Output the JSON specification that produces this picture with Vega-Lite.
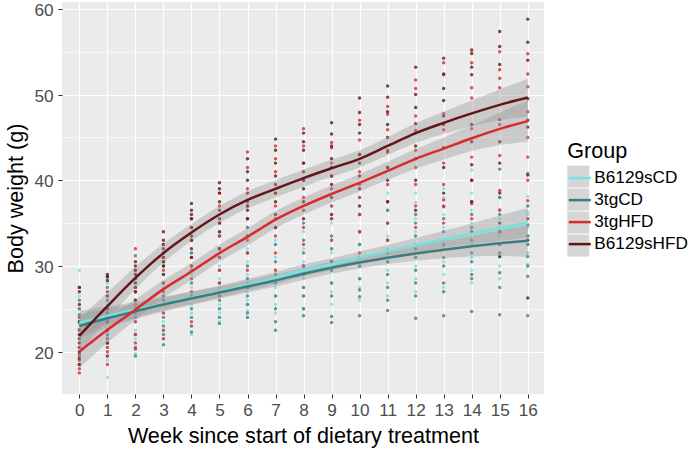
{
  "$schema": "https://vega.github.io/schema/vega-lite/v6.json",
  "autosize": {"type": "none"},
  "padding": {"left": 62, "top": 2, "right": 145, "bottom": 59},
  "width": 482,
  "height": 392,
  "background": "white",
  "config": {
    "view": {"fill": "#EBEBEB", "stroke": null},
    "font": "Liberation Sans",
    "axis": {
      "domain": false,
      "grid": true,
      "gridColor": "#FFFFFF",
      "gridWidth": 1.2,
      "tickColor": "#333333",
      "tickSize": 4,
      "tickWidth": 1,
      "labelFont": "Liberation Sans",
      "labelFontSize": 17.2,
      "labelColor": "#4D4D4D",
      "labelOverlap": false,
      "titleFont": "Liberation Sans",
      "titleFontSize": 21.6,
      "titleFontWeight": "normal",
      "titleColor": "#000000"
    },
    "axisX": {"values": [0,1,2,3,4,5,6,7,8,9,10,11,12,13,14,15,16], "labelPadding": 3, "titlePadding": 7, "labelFlush": false},
    "legend": {
      "orient": "none", "legendX": 505.3, "legendY": 139, "symbolSize": 484,
      "titleFontSize": 21.6, "titleFontWeight": "normal", "titleColor": "#000000", "titleFont": "Liberation Sans",
      "labelFont": "Liberation Sans", "labelFontSize": 17.2, "labelColor": "#000000",
      "rowPadding": 1, "titlePadding": 3, "labelOffset": 2
    }
  },
  "datasets": {
    "pts": [
      {"g":"B6129sCD","w":0,"v":29.5},{"g":"B6129sCD","w":0,"v":26.5},{"g":"B6129sCD","w":0,"v":25.0},{"g":"B6129sCD","w":0,"v":24.0},{"g":"B6129sCD","w":0,"v":23.2},{"g":"B6129sCD","w":0,"v":22.5},{"g":"B6129sCD","w":0,"v":21.8},{"g":"B6129sCD","w":0,"v":20.5},{"g":"B6129sCD","w":0,"v":18.5},
      {"g":"B6129sCD","w":1,"v":28.0},{"g":"B6129sCD","w":1,"v":25.5},{"g":"B6129sCD","w":1,"v":24.5},{"g":"B6129sCD","w":1,"v":23.5},{"g":"B6129sCD","w":1,"v":22.5},{"g":"B6129sCD","w":1,"v":21.8},{"g":"B6129sCD","w":1,"v":20.5},{"g":"B6129sCD","w":1,"v":19.0},{"g":"B6129sCD","w":1,"v":17.0},
      {"g":"B6129sCD","w":2,"v":28.0},{"g":"B6129sCD","w":2,"v":26.0},{"g":"B6129sCD","w":2,"v":25.0},{"g":"B6129sCD","w":2,"v":24.5},{"g":"B6129sCD","w":2,"v":23.5},{"g":"B6129sCD","w":2,"v":22.5},{"g":"B6129sCD","w":2,"v":21.5},{"g":"B6129sCD","w":2,"v":20.5},{"g":"B6129sCD","w":2,"v":19.8},
      {"g":"B6129sCD","w":3,"v":30.5},{"g":"B6129sCD","w":3,"v":29.0},{"g":"B6129sCD","w":3,"v":27.5},{"g":"B6129sCD","w":3,"v":26.5},{"g":"B6129sCD","w":3,"v":25.5},{"g":"B6129sCD","w":3,"v":24.5},{"g":"B6129sCD","w":3,"v":23.5},{"g":"B6129sCD","w":3,"v":22.5},{"g":"B6129sCD","w":3,"v":21.5},
      {"g":"B6129sCD","w":4,"v":31.5},{"g":"B6129sCD","w":4,"v":30.0},{"g":"B6129sCD","w":4,"v":29.0},{"g":"B6129sCD","w":4,"v":27.5},{"g":"B6129sCD","w":4,"v":26.5},{"g":"B6129sCD","w":4,"v":25.5},{"g":"B6129sCD","w":4,"v":24.5},{"g":"B6129sCD","w":4,"v":23.0},{"g":"B6129sCD","w":4,"v":22.0},
      {"g":"B6129sCD","w":5,"v":34.0},{"g":"B6129sCD","w":5,"v":31.5},{"g":"B6129sCD","w":5,"v":30.0},{"g":"B6129sCD","w":5,"v":28.5},{"g":"B6129sCD","w":5,"v":27.5},{"g":"B6129sCD","w":5,"v":26.5},{"g":"B6129sCD","w":5,"v":25.5},{"g":"B6129sCD","w":5,"v":24.5},{"g":"B6129sCD","w":5,"v":23.5},
      {"g":"B6129sCD","w":6,"v":34.5},{"g":"B6129sCD","w":6,"v":32.0},{"g":"B6129sCD","w":6,"v":30.5},{"g":"B6129sCD","w":6,"v":29.0},{"g":"B6129sCD","w":6,"v":28.0},{"g":"B6129sCD","w":6,"v":27.0},{"g":"B6129sCD","w":6,"v":26.0},{"g":"B6129sCD","w":6,"v":25.5},{"g":"B6129sCD","w":6,"v":24.8},
      {"g":"B6129sCD","w":7,"v":35.5},{"g":"B6129sCD","w":7,"v":33.0},{"g":"B6129sCD","w":7,"v":31.0},{"g":"B6129sCD","w":7,"v":29.5},{"g":"B6129sCD","w":7,"v":28.5},{"g":"B6129sCD","w":7,"v":27.5},{"g":"B6129sCD","w":7,"v":26.5},{"g":"B6129sCD","w":7,"v":25.5},{"g":"B6129sCD","w":7,"v":24.5},
      {"g":"B6129sCD","w":8,"v":36.5},{"g":"B6129sCD","w":8,"v":34.0},{"g":"B6129sCD","w":8,"v":32.0},{"g":"B6129sCD","w":8,"v":30.5},{"g":"B6129sCD","w":8,"v":29.5},{"g":"B6129sCD","w":8,"v":28.5},{"g":"B6129sCD","w":8,"v":27.5},{"g":"B6129sCD","w":8,"v":26.5},{"g":"B6129sCD","w":8,"v":25.0},
      {"g":"B6129sCD","w":9,"v":37.0},{"g":"B6129sCD","w":9,"v":35.0},{"g":"B6129sCD","w":9,"v":33.0},{"g":"B6129sCD","w":9,"v":31.5},{"g":"B6129sCD","w":9,"v":30.5},{"g":"B6129sCD","w":9,"v":29.5},{"g":"B6129sCD","w":9,"v":28.0},{"g":"B6129sCD","w":9,"v":27.0},{"g":"B6129sCD","w":9,"v":25.5},
      {"g":"B6129sCD","w":10,"v":38.0},{"g":"B6129sCD","w":10,"v":36.0},{"g":"B6129sCD","w":10,"v":34.0},{"g":"B6129sCD","w":10,"v":32.5},{"g":"B6129sCD","w":10,"v":31.0},{"g":"B6129sCD","w":10,"v":30.0},{"g":"B6129sCD","w":10,"v":28.5},{"g":"B6129sCD","w":10,"v":27.5},{"g":"B6129sCD","w":10,"v":26.0},
      {"g":"B6129sCD","w":11,"v":38.5},{"g":"B6129sCD","w":11,"v":36.5},{"g":"B6129sCD","w":11,"v":35.0},{"g":"B6129sCD","w":11,"v":33.5},{"g":"B6129sCD","w":11,"v":32.0},{"g":"B6129sCD","w":11,"v":30.5},{"g":"B6129sCD","w":11,"v":29.5},{"g":"B6129sCD","w":11,"v":28.0},{"g":"B6129sCD","w":11,"v":26.5},
      {"g":"B6129sCD","w":12,"v":38.5},{"g":"B6129sCD","w":12,"v":37.4},{"g":"B6129sCD","w":12,"v":35.5},{"g":"B6129sCD","w":12,"v":34.0},{"g":"B6129sCD","w":12,"v":32.5},{"g":"B6129sCD","w":12,"v":31.0},{"g":"B6129sCD","w":12,"v":30.0},{"g":"B6129sCD","w":12,"v":28.5},{"g":"B6129sCD","w":12,"v":27.0},
      {"g":"B6129sCD","w":13,"v":39.0},{"g":"B6129sCD","w":13,"v":38.0},{"g":"B6129sCD","w":13,"v":36.0},{"g":"B6129sCD","w":13,"v":34.5},{"g":"B6129sCD","w":13,"v":33.0},{"g":"B6129sCD","w":13,"v":32.0},{"g":"B6129sCD","w":13,"v":30.5},{"g":"B6129sCD","w":13,"v":29.0},{"g":"B6129sCD","w":13,"v":27.5},
      {"g":"B6129sCD","w":14,"v":41.2},{"g":"B6129sCD","w":14,"v":38.5},{"g":"B6129sCD","w":14,"v":36.5},{"g":"B6129sCD","w":14,"v":35.0},{"g":"B6129sCD","w":14,"v":34.0},{"g":"B6129sCD","w":14,"v":32.5},{"g":"B6129sCD","w":14,"v":31.0},{"g":"B6129sCD","w":14,"v":29.5},{"g":"B6129sCD","w":14,"v":28.0},
      {"g":"B6129sCD","w":15,"v":38.0},{"g":"B6129sCD","w":15,"v":36.6},{"g":"B6129sCD","w":15,"v":35.5},{"g":"B6129sCD","w":15,"v":34.5},{"g":"B6129sCD","w":15,"v":33.5},{"g":"B6129sCD","w":15,"v":32.5},{"g":"B6129sCD","w":15,"v":31.0},{"g":"B6129sCD","w":15,"v":30.0},{"g":"B6129sCD","w":15,"v":28.5},
      {"g":"B6129sCD","w":16,"v":38.1},{"g":"B6129sCD","w":16,"v":36.3},{"g":"B6129sCD","w":16,"v":36.0},{"g":"B6129sCD","w":16,"v":35.5},{"g":"B6129sCD","w":16,"v":34.5},{"g":"B6129sCD","w":16,"v":33.5},{"g":"B6129sCD","w":16,"v":32.5},{"g":"B6129sCD","w":16,"v":31.5},{"g":"B6129sCD","w":16,"v":30.2},
      {"g":"3tgCD","w":0,"v":27.5},{"g":"3tgCD","w":0,"v":26.0},{"g":"3tgCD","w":0,"v":25.0},{"g":"3tgCD","w":0,"v":24.3},{"g":"3tgCD","w":0,"v":23.5},{"g":"3tgCD","w":0,"v":22.6},{"g":"3tgCD","w":0,"v":21.5},{"g":"3tgCD","w":0,"v":20.5},{"g":"3tgCD","w":0,"v":19.5},
      {"g":"3tgCD","w":1,"v":28.8},{"g":"3tgCD","w":1,"v":27.5},{"g":"3tgCD","w":1,"v":26.0},{"g":"3tgCD","w":1,"v":25.0},{"g":"3tgCD","w":1,"v":24.0},{"g":"3tgCD","w":1,"v":23.5},{"g":"3tgCD","w":1,"v":22.0},{"g":"3tgCD","w":1,"v":21.0},{"g":"3tgCD","w":1,"v":19.5},
      {"g":"3tgCD","w":2,"v":31.2},{"g":"3tgCD","w":2,"v":29.0},{"g":"3tgCD","w":2,"v":27.5},{"g":"3tgCD","w":2,"v":26.0},{"g":"3tgCD","w":2,"v":25.0},{"g":"3tgCD","w":2,"v":24.0},{"g":"3tgCD","w":2,"v":22.0},{"g":"3tgCD","w":2,"v":20.5},{"g":"3tgCD","w":2,"v":19.5},
      {"g":"3tgCD","w":3,"v":32.5},{"g":"3tgCD","w":3,"v":30.0},{"g":"3tgCD","w":3,"v":28.0},{"g":"3tgCD","w":3,"v":26.5},{"g":"3tgCD","w":3,"v":25.5},{"g":"3tgCD","w":3,"v":24.0},{"g":"3tgCD","w":3,"v":23.0},{"g":"3tgCD","w":3,"v":22.0},{"g":"3tgCD","w":3,"v":20.8},
      {"g":"3tgCD","w":4,"v":33.0},{"g":"3tgCD","w":4,"v":31.5},{"g":"3tgCD","w":4,"v":30.0},{"g":"3tgCD","w":4,"v":28.0},{"g":"3tgCD","w":4,"v":26.5},{"g":"3tgCD","w":4,"v":25.0},{"g":"3tgCD","w":4,"v":24.0},{"g":"3tgCD","w":4,"v":23.0},{"g":"3tgCD","w":4,"v":22.3},
      {"g":"3tgCD","w":5,"v":33.5},{"g":"3tgCD","w":5,"v":31.0},{"g":"3tgCD","w":5,"v":29.5},{"g":"3tgCD","w":5,"v":28.0},{"g":"3tgCD","w":5,"v":27.0},{"g":"3tgCD","w":5,"v":26.0},{"g":"3tgCD","w":5,"v":25.0},{"g":"3tgCD","w":5,"v":24.0},{"g":"3tgCD","w":5,"v":23.3},
      {"g":"3tgCD","w":6,"v":34.5},{"g":"3tgCD","w":6,"v":31.5},{"g":"3tgCD","w":6,"v":30.0},{"g":"3tgCD","w":6,"v":28.5},{"g":"3tgCD","w":6,"v":27.5},{"g":"3tgCD","w":6,"v":26.5},{"g":"3tgCD","w":6,"v":25.5},{"g":"3tgCD","w":6,"v":24.5},{"g":"3tgCD","w":6,"v":24.0},
      {"g":"3tgCD","w":7,"v":34.5},{"g":"3tgCD","w":7,"v":32.5},{"g":"3tgCD","w":7,"v":30.5},{"g":"3tgCD","w":7,"v":29.0},{"g":"3tgCD","w":7,"v":28.0},{"g":"3tgCD","w":7,"v":26.5},{"g":"3tgCD","w":7,"v":25.0},{"g":"3tgCD","w":7,"v":23.5},{"g":"3tgCD","w":7,"v":22.5},
      {"g":"3tgCD","w":8,"v":35.0},{"g":"3tgCD","w":8,"v":33.0},{"g":"3tgCD","w":8,"v":31.5},{"g":"3tgCD","w":8,"v":30.0},{"g":"3tgCD","w":8,"v":29.0},{"g":"3tgCD","w":8,"v":27.5},{"g":"3tgCD","w":8,"v":26.5},{"g":"3tgCD","w":8,"v":25.0},{"g":"3tgCD","w":8,"v":24.2},
      {"g":"3tgCD","w":9,"v":35.5},{"g":"3tgCD","w":9,"v":33.5},{"g":"3tgCD","w":9,"v":32.0},{"g":"3tgCD","w":9,"v":30.5},{"g":"3tgCD","w":9,"v":29.5},{"g":"3tgCD","w":9,"v":28.0},{"g":"3tgCD","w":9,"v":26.5},{"g":"3tgCD","w":9,"v":24.1},{"g":"3tgCD","w":9,"v":23.4},
      {"g":"3tgCD","w":10,"v":36.0},{"g":"3tgCD","w":10,"v":34.0},{"g":"3tgCD","w":10,"v":32.5},{"g":"3tgCD","w":10,"v":31.0},{"g":"3tgCD","w":10,"v":30.0},{"g":"3tgCD","w":10,"v":28.5},{"g":"3tgCD","w":10,"v":27.2},{"g":"3tgCD","w":10,"v":26.4},{"g":"3tgCD","w":10,"v":24.2},
      {"g":"3tgCD","w":11,"v":36.5},{"g":"3tgCD","w":11,"v":35.0},{"g":"3tgCD","w":11,"v":33.0},{"g":"3tgCD","w":11,"v":31.5},{"g":"3tgCD","w":11,"v":30.5},{"g":"3tgCD","w":11,"v":29.0},{"g":"3tgCD","w":11,"v":27.5},{"g":"3tgCD","w":11,"v":26.0},{"g":"3tgCD","w":11,"v":24.8},
      {"g":"3tgCD","w":12,"v":36.0},{"g":"3tgCD","w":12,"v":35.0},{"g":"3tgCD","w":12,"v":33.5},{"g":"3tgCD","w":12,"v":32.0},{"g":"3tgCD","w":12,"v":31.0},{"g":"3tgCD","w":12,"v":29.5},{"g":"3tgCD","w":12,"v":28.0},{"g":"3tgCD","w":12,"v":26.5},{"g":"3tgCD","w":12,"v":23.9},
      {"g":"3tgCD","w":13,"v":37.0},{"g":"3tgCD","w":13,"v":35.5},{"g":"3tgCD","w":13,"v":34.0},{"g":"3tgCD","w":13,"v":32.5},{"g":"3tgCD","w":13,"v":31.0},{"g":"3tgCD","w":13,"v":30.0},{"g":"3tgCD","w":13,"v":28.0},{"g":"3tgCD","w":13,"v":27.0},{"g":"3tgCD","w":13,"v":24.2},
      {"g":"3tgCD","w":14,"v":37.5},{"g":"3tgCD","w":14,"v":36.0},{"g":"3tgCD","w":14,"v":34.5},{"g":"3tgCD","w":14,"v":33.0},{"g":"3tgCD","w":14,"v":31.5},{"g":"3tgCD","w":14,"v":30.5},{"g":"3tgCD","w":14,"v":29.0},{"g":"3tgCD","w":14,"v":28.5},{"g":"3tgCD","w":14,"v":24.7},
      {"g":"3tgCD","w":15,"v":41.3},{"g":"3tgCD","w":15,"v":38.0},{"g":"3tgCD","w":15,"v":36.0},{"g":"3tgCD","w":15,"v":34.0},{"g":"3tgCD","w":15,"v":32.5},{"g":"3tgCD","w":15,"v":31.5},{"g":"3tgCD","w":15,"v":29.2},{"g":"3tgCD","w":15,"v":27.5},{"g":"3tgCD","w":15,"v":24.3},
      {"g":"3tgCD","w":16,"v":40.8},{"g":"3tgCD","w":16,"v":37.0},{"g":"3tgCD","w":16,"v":34.8},{"g":"3tgCD","w":16,"v":33.5},{"g":"3tgCD","w":16,"v":32.5},{"g":"3tgCD","w":16,"v":31.1},{"g":"3tgCD","w":16,"v":30.0},{"g":"3tgCD","w":16,"v":28.8},{"g":"3tgCD","w":16,"v":24.2},
      {"g":"3tgHFD","w":0,"v":24.0},{"g":"3tgHFD","w":0,"v":22.5},{"g":"3tgHFD","w":0,"v":21.5},{"g":"3tgHFD","w":0,"v":20.5},{"g":"3tgHFD","w":0,"v":19.8},{"g":"3tgHFD","w":0,"v":19.0},{"g":"3tgHFD","w":0,"v":18.5},{"g":"3tgHFD","w":0,"v":18.0},{"g":"3tgHFD","w":0,"v":17.5},
      {"g":"3tgHFD","w":1,"v":27.0},{"g":"3tgHFD","w":1,"v":25.0},{"g":"3tgHFD","w":1,"v":23.5},{"g":"3tgHFD","w":1,"v":22.5},{"g":"3tgHFD","w":1,"v":21.5},{"g":"3tgHFD","w":1,"v":20.5},{"g":"3tgHFD","w":1,"v":20.0},{"g":"3tgHFD","w":1,"v":19.5},{"g":"3tgHFD","w":1,"v":18.5},
      {"g":"3tgHFD","w":2,"v":32.0},{"g":"3tgHFD","w":2,"v":29.5},{"g":"3tgHFD","w":2,"v":27.0},{"g":"3tgHFD","w":2,"v":25.5},{"g":"3tgHFD","w":2,"v":24.5},{"g":"3tgHFD","w":2,"v":23.5},{"g":"3tgHFD","w":2,"v":22.0},{"g":"3tgHFD","w":2,"v":21.0},{"g":"3tgHFD","w":2,"v":20.3},
      {"g":"3tgHFD","w":3,"v":31.0},{"g":"3tgHFD","w":3,"v":30.5},{"g":"3tgHFD","w":3,"v":29.5},{"g":"3tgHFD","w":3,"v":28.0},{"g":"3tgHFD","w":3,"v":27.0},{"g":"3tgHFD","w":3,"v":26.0},{"g":"3tgHFD","w":3,"v":24.5},{"g":"3tgHFD","w":3,"v":22.5},{"g":"3tgHFD","w":3,"v":21.5},
      {"g":"3tgHFD","w":4,"v":35.5},{"g":"3tgHFD","w":4,"v":34.5},{"g":"3tgHFD","w":4,"v":33.0},{"g":"3tgHFD","w":4,"v":31.0},{"g":"3tgHFD","w":4,"v":30.0},{"g":"3tgHFD","w":4,"v":29.5},{"g":"3tgHFD","w":4,"v":28.5},{"g":"3tgHFD","w":4,"v":27.0},{"g":"3tgHFD","w":4,"v":23.5},
      {"g":"3tgHFD","w":5,"v":38.5},{"g":"3tgHFD","w":5,"v":37.0},{"g":"3tgHFD","w":5,"v":35.0},{"g":"3tgHFD","w":5,"v":33.5},{"g":"3tgHFD","w":5,"v":32.0},{"g":"3tgHFD","w":5,"v":31.0},{"g":"3tgHFD","w":5,"v":29.5},{"g":"3tgHFD","w":5,"v":28.0},{"g":"3tgHFD","w":5,"v":26.5},
      {"g":"3tgHFD","w":6,"v":43.3},{"g":"3tgHFD","w":6,"v":41.5},{"g":"3tgHFD","w":6,"v":39.0},{"g":"3tgHFD","w":6,"v":37.0},{"g":"3tgHFD","w":6,"v":35.5},{"g":"3tgHFD","w":6,"v":33.0},{"g":"3tgHFD","w":6,"v":31.5},{"g":"3tgHFD","w":6,"v":29.5},{"g":"3tgHFD","w":6,"v":27.5},
      {"g":"3tgHFD","w":7,"v":44.0},{"g":"3tgHFD","w":7,"v":42.5},{"g":"3tgHFD","w":7,"v":41.0},{"g":"3tgHFD","w":7,"v":38.5},{"g":"3tgHFD","w":7,"v":37.0},{"g":"3tgHFD","w":7,"v":35.5},{"g":"3tgHFD","w":7,"v":33.5},{"g":"3tgHFD","w":7,"v":31.5},{"g":"3tgHFD","w":7,"v":29.5},
      {"g":"3tgHFD","w":8,"v":46.0},{"g":"3tgHFD","w":8,"v":44.0},{"g":"3tgHFD","w":8,"v":42.0},{"g":"3tgHFD","w":8,"v":40.0},{"g":"3tgHFD","w":8,"v":38.0},{"g":"3tgHFD","w":8,"v":36.5},{"g":"3tgHFD","w":8,"v":34.5},{"g":"3tgHFD","w":8,"v":32.5},{"g":"3tgHFD","w":8,"v":30.0},
      {"g":"3tgHFD","w":9,"v":44.4},{"g":"3tgHFD","w":9,"v":43.8},{"g":"3tgHFD","w":9,"v":42.0},{"g":"3tgHFD","w":9,"v":40.5},{"g":"3tgHFD","w":9,"v":39.0},{"g":"3tgHFD","w":9,"v":37.0},{"g":"3tgHFD","w":9,"v":35.5},{"g":"3tgHFD","w":9,"v":33.0},{"g":"3tgHFD","w":9,"v":30.5},
      {"g":"3tgHFD","w":10,"v":47.0},{"g":"3tgHFD","w":10,"v":44.7},{"g":"3tgHFD","w":10,"v":43.0},{"g":"3tgHFD","w":10,"v":41.0},{"g":"3tgHFD","w":10,"v":39.5},{"g":"3tgHFD","w":10,"v":38.0},{"g":"3tgHFD","w":10,"v":36.0},{"g":"3tgHFD","w":10,"v":34.0},{"g":"3tgHFD","w":10,"v":31.5},
      {"g":"3tgHFD","w":11,"v":48.6},{"g":"3tgHFD","w":11,"v":47.7},{"g":"3tgHFD","w":11,"v":45.9},{"g":"3tgHFD","w":11,"v":43.5},{"g":"3tgHFD","w":11,"v":41.5},{"g":"3tgHFD","w":11,"v":39.5},{"g":"3tgHFD","w":11,"v":37.5},{"g":"3tgHFD","w":11,"v":35.0},{"g":"3tgHFD","w":11,"v":33.0},
      {"g":"3tgHFD","w":12,"v":51.7},{"g":"3tgHFD","w":12,"v":50.7},{"g":"3tgHFD","w":12,"v":47.5},{"g":"3tgHFD","w":12,"v":45.8},{"g":"3tgHFD","w":12,"v":43.5},{"g":"3tgHFD","w":12,"v":41.5},{"g":"3tgHFD","w":12,"v":39.5},{"g":"3tgHFD","w":12,"v":37.0},{"g":"3tgHFD","w":12,"v":34.5},
      {"g":"3tgHFD","w":13,"v":53.7},{"g":"3tgHFD","w":13,"v":52.3},{"g":"3tgHFD","w":13,"v":47.8},{"g":"3tgHFD","w":13,"v":45.9},{"g":"3tgHFD","w":13,"v":42.0},{"g":"3tgHFD","w":13,"v":39.5},{"g":"3tgHFD","w":13,"v":37.7},{"g":"3tgHFD","w":13,"v":36.9},{"g":"3tgHFD","w":13,"v":35.0},
      {"g":"3tgHFD","w":14,"v":53.7},{"g":"3tgHFD","w":14,"v":50.8},{"g":"3tgHFD","w":14,"v":49.6},{"g":"3tgHFD","w":14,"v":46.0},{"g":"3tgHFD","w":14,"v":42.7},{"g":"3tgHFD","w":14,"v":40.0},{"g":"3tgHFD","w":14,"v":37.25},{"g":"3tgHFD","w":14,"v":35.5},{"g":"3tgHFD","w":14,"v":34.0},
      {"g":"3tgHFD","w":15,"v":55.0},{"g":"3tgHFD","w":15,"v":52.9},{"g":"3tgHFD","w":15,"v":51.9},{"g":"3tgHFD","w":15,"v":50.8},{"g":"3tgHFD","w":15,"v":46.5},{"g":"3tgHFD","w":15,"v":42.9},{"g":"3tgHFD","w":15,"v":38.8},{"g":"3tgHFD","w":15,"v":36.5},{"g":"3tgHFD","w":15,"v":34.0},
      {"g":"3tgHFD","w":16,"v":54.75},{"g":"3tgHFD","w":16,"v":52.4},{"g":"3tgHFD","w":16,"v":50.9},{"g":"3tgHFD","w":16,"v":48.0},{"g":"3tgHFD","w":16,"v":45.0},{"g":"3tgHFD","w":16,"v":42.7},{"g":"3tgHFD","w":16,"v":40.0},{"g":"3tgHFD","w":16,"v":37.6},{"g":"3tgHFD","w":16,"v":35.5},
      {"g":"B6129sHFD","w":0,"v":27.5},{"g":"B6129sHFD","w":0,"v":27.0},{"g":"B6129sHFD","w":0,"v":25.5},{"g":"B6129sHFD","w":0,"v":23.5},{"g":"B6129sHFD","w":0,"v":22.0},{"g":"B6129sHFD","w":0,"v":21.0},{"g":"B6129sHFD","w":0,"v":20.0},{"g":"B6129sHFD","w":0,"v":19.2},{"g":"B6129sHFD","w":0,"v":18.5},
      {"g":"B6129sHFD","w":1,"v":29.0},{"g":"B6129sHFD","w":1,"v":28.7},{"g":"B6129sHFD","w":1,"v":28.3},{"g":"B6129sHFD","w":1,"v":26.5},{"g":"B6129sHFD","w":1,"v":25.0},{"g":"B6129sHFD","w":1,"v":24.5},{"g":"B6129sHFD","w":1,"v":23.5},{"g":"B6129sHFD","w":1,"v":22.5},{"g":"B6129sHFD","w":1,"v":21.0},
      {"g":"B6129sHFD","w":2,"v":30.5},{"g":"B6129sHFD","w":2,"v":30.0},{"g":"B6129sHFD","w":2,"v":29.5},{"g":"B6129sHFD","w":2,"v":29.0},{"g":"B6129sHFD","w":2,"v":28.5},{"g":"B6129sHFD","w":2,"v":28.0},{"g":"B6129sHFD","w":2,"v":27.5},{"g":"B6129sHFD","w":2,"v":27.0},{"g":"B6129sHFD","w":2,"v":26.0},
      {"g":"B6129sHFD","w":3,"v":34.0},{"g":"B6129sHFD","w":3,"v":33.0},{"g":"B6129sHFD","w":3,"v":32.5},{"g":"B6129sHFD","w":3,"v":32.0},{"g":"B6129sHFD","w":3,"v":31.5},{"g":"B6129sHFD","w":3,"v":31.0},{"g":"B6129sHFD","w":3,"v":30.5},{"g":"B6129sHFD","w":3,"v":30.0},{"g":"B6129sHFD","w":3,"v":29.0},
      {"g":"B6129sHFD","w":4,"v":37.3},{"g":"B6129sHFD","w":4,"v":36.5},{"g":"B6129sHFD","w":4,"v":36.0},{"g":"B6129sHFD","w":4,"v":35.5},{"g":"B6129sHFD","w":4,"v":34.5},{"g":"B6129sHFD","w":4,"v":33.5},{"g":"B6129sHFD","w":4,"v":33.0},{"g":"B6129sHFD","w":4,"v":32.0},{"g":"B6129sHFD","w":4,"v":31.0},
      {"g":"B6129sHFD","w":5,"v":39.7},{"g":"B6129sHFD","w":5,"v":39.0},{"g":"B6129sHFD","w":5,"v":38.5},{"g":"B6129sHFD","w":5,"v":37.5},{"g":"B6129sHFD","w":5,"v":36.5},{"g":"B6129sHFD","w":5,"v":35.5},{"g":"B6129sHFD","w":5,"v":35.0},{"g":"B6129sHFD","w":5,"v":34.0},{"g":"B6129sHFD","w":5,"v":32.0},
      {"g":"B6129sHFD","w":6,"v":42.5},{"g":"B6129sHFD","w":6,"v":41.0},{"g":"B6129sHFD","w":6,"v":40.0},{"g":"B6129sHFD","w":6,"v":38.5},{"g":"B6129sHFD","w":6,"v":37.5},{"g":"B6129sHFD","w":6,"v":37.0},{"g":"B6129sHFD","w":6,"v":36.5},{"g":"B6129sHFD","w":6,"v":35.5},{"g":"B6129sHFD","w":6,"v":33.5},
      {"g":"B6129sHFD","w":7,"v":44.8},{"g":"B6129sHFD","w":7,"v":43.5},{"g":"B6129sHFD","w":7,"v":42.0},{"g":"B6129sHFD","w":7,"v":40.5},{"g":"B6129sHFD","w":7,"v":39.5},{"g":"B6129sHFD","w":7,"v":38.5},{"g":"B6129sHFD","w":7,"v":37.5},{"g":"B6129sHFD","w":7,"v":36.0},{"g":"B6129sHFD","w":7,"v":34.5},
      {"g":"B6129sHFD","w":8,"v":45.5},{"g":"B6129sHFD","w":8,"v":44.5},{"g":"B6129sHFD","w":8,"v":43.5},{"g":"B6129sHFD","w":8,"v":42.0},{"g":"B6129sHFD","w":8,"v":41.0},{"g":"B6129sHFD","w":8,"v":40.0},{"g":"B6129sHFD","w":8,"v":39.0},{"g":"B6129sHFD","w":8,"v":37.5},{"g":"B6129sHFD","w":8,"v":35.5},
      {"g":"B6129sHFD","w":9,"v":46.7},{"g":"B6129sHFD","w":9,"v":45.4},{"g":"B6129sHFD","w":9,"v":44.0},{"g":"B6129sHFD","w":9,"v":42.5},{"g":"B6129sHFD","w":9,"v":41.5},{"g":"B6129sHFD","w":9,"v":40.5},{"g":"B6129sHFD","w":9,"v":39.5},{"g":"B6129sHFD","w":9,"v":38.0},{"g":"B6129sHFD","w":9,"v":36.0},
      {"g":"B6129sHFD","w":10,"v":49.6},{"g":"B6129sHFD","w":10,"v":47.9},{"g":"B6129sHFD","w":10,"v":46.5},{"g":"B6129sHFD","w":10,"v":45.5},{"g":"B6129sHFD","w":10,"v":43.0},{"g":"B6129sHFD","w":10,"v":42.0},{"g":"B6129sHFD","w":10,"v":40.5},{"g":"B6129sHFD","w":10,"v":39.0},{"g":"B6129sHFD","w":10,"v":37.0},
      {"g":"B6129sHFD","w":11,"v":51.0},{"g":"B6129sHFD","w":11,"v":49.7},{"g":"B6129sHFD","w":11,"v":48.0},{"g":"B6129sHFD","w":11,"v":46.5},{"g":"B6129sHFD","w":11,"v":45.0},{"g":"B6129sHFD","w":11,"v":43.3},{"g":"B6129sHFD","w":11,"v":41.5},{"g":"B6129sHFD","w":11,"v":40.0},{"g":"B6129sHFD","w":11,"v":37.5},
      {"g":"B6129sHFD","w":12,"v":53.2},{"g":"B6129sHFD","w":12,"v":50.0},{"g":"B6129sHFD","w":12,"v":48.5},{"g":"B6129sHFD","w":12,"v":46.6},{"g":"B6129sHFD","w":12,"v":45.5},{"g":"B6129sHFD","w":12,"v":44.0},{"g":"B6129sHFD","w":12,"v":42.5},{"g":"B6129sHFD","w":12,"v":40.0},{"g":"B6129sHFD","w":12,"v":36.5},
      {"g":"B6129sHFD","w":13,"v":54.25},{"g":"B6129sHFD","w":13,"v":52.4},{"g":"B6129sHFD","w":13,"v":50.7},{"g":"B6129sHFD","w":13,"v":49.3},{"g":"B6129sHFD","w":13,"v":47.5},{"g":"B6129sHFD","w":13,"v":46.5},{"g":"B6129sHFD","w":13,"v":43.8},{"g":"B6129sHFD","w":13,"v":41.5},{"g":"B6129sHFD","w":13,"v":38.5},
      {"g":"B6129sHFD","w":14,"v":55.2},{"g":"B6129sHFD","w":14,"v":54.8},{"g":"B6129sHFD","w":14,"v":53.2},{"g":"B6129sHFD","w":14,"v":52.3},{"g":"B6129sHFD","w":14,"v":46.5},{"g":"B6129sHFD","w":14,"v":44.5},{"g":"B6129sHFD","w":14,"v":41.8},{"g":"B6129sHFD","w":14,"v":40.0},{"g":"B6129sHFD","w":14,"v":37.5},
      {"g":"B6129sHFD","w":15,"v":57.35},{"g":"B6129sHFD","w":15,"v":55.6},{"g":"B6129sHFD","w":15,"v":53.5},{"g":"B6129sHFD","w":15,"v":47.1},{"g":"B6129sHFD","w":15,"v":44.5},{"g":"B6129sHFD","w":15,"v":42.0},{"g":"B6129sHFD","w":15,"v":38.5},{"g":"B6129sHFD","w":15,"v":35.0},{"g":"B6129sHFD","w":15,"v":31.1},
      {"g":"B6129sHFD","w":16,"v":58.8},{"g":"B6129sHFD","w":16,"v":56.1},{"g":"B6129sHFD","w":16,"v":54.0},{"g":"B6129sHFD","w":16,"v":49.5},{"g":"B6129sHFD","w":16,"v":47.0},{"g":"B6129sHFD","w":16,"v":46.2},{"g":"B6129sHFD","w":16,"v":40.6},{"g":"B6129sHFD","w":16,"v":33.0},{"g":"B6129sHFD","w":16,"v":26.25}
    ],
    "fit": [
      {"g":"B6129sCD","w":0,"f":23.4,"lo":22.0,"hi":24.8},{"g":"B6129sCD","w":1,"f":24.2,"lo":23.1,"hi":25.3},{"g":"B6129sCD","w":2,"f":24.9,"lo":24.0,"hi":25.8},{"g":"B6129sCD","w":3,"f":25.6,"lo":24.8,"hi":26.4},{"g":"B6129sCD","w":4,"f":26.3,"lo":25.55,"hi":27.05},{"g":"B6129sCD","w":5,"f":27.0,"lo":26.3,"hi":27.7},{"g":"B6129sCD","w":6,"f":27.8,"lo":27.1,"hi":28.5},{"g":"B6129sCD","w":7,"f":28.6,"lo":27.9,"hi":29.3},{"g":"B6129sCD","w":8,"f":29.5,"lo":28.8,"hi":30.2},{"g":"B6129sCD","w":9,"f":30.2,"lo":29.5,"hi":30.9},{"g":"B6129sCD","w":10,"f":31.0,"lo":30.3,"hi":31.7},{"g":"B6129sCD","w":11,"f":31.7,"lo":30.95,"hi":32.45},{"g":"B6129sCD","w":12,"f":32.4,"lo":31.55,"hi":33.25},{"g":"B6129sCD","w":13,"f":33.1,"lo":32.1,"hi":34.1},{"g":"B6129sCD","w":14,"f":33.75,"lo":32.55,"hi":34.95},{"g":"B6129sCD","w":15,"f":34.4,"lo":32.9,"hi":35.9},{"g":"B6129sCD","w":16,"f":35.05,"lo":33.35,"hi":36.75},
      {"g":"3tgCD","w":0,"f":23.0,"lo":21.6,"hi":24.4},{"g":"3tgCD","w":1,"f":23.9,"lo":22.8,"hi":25.0},{"g":"3tgCD","w":2,"f":24.7,"lo":23.8,"hi":25.6},{"g":"3tgCD","w":3,"f":25.5,"lo":24.7,"hi":26.3},{"g":"3tgCD","w":4,"f":26.2,"lo":25.45,"hi":26.95},{"g":"3tgCD","w":5,"f":26.9,"lo":26.2,"hi":27.6},{"g":"3tgCD","w":6,"f":27.6,"lo":26.9,"hi":28.3},{"g":"3tgCD","w":7,"f":28.3,"lo":27.6,"hi":29.0},{"g":"3tgCD","w":8,"f":29.1,"lo":28.4,"hi":29.8},{"g":"3tgCD","w":9,"f":29.8,"lo":29.1,"hi":30.5},{"g":"3tgCD","w":10,"f":30.4,"lo":29.7,"hi":31.1},{"g":"3tgCD","w":11,"f":30.95,"lo":30.2,"hi":31.7},{"g":"3tgCD","w":12,"f":31.45,"lo":30.6,"hi":32.3},{"g":"3tgCD","w":13,"f":31.9,"lo":30.9,"hi":32.9},{"g":"3tgCD","w":14,"f":32.3,"lo":31.1,"hi":33.5},{"g":"3tgCD","w":15,"f":32.65,"lo":31.15,"hi":34.15},{"g":"3tgCD","w":16,"f":32.95,"lo":31.05,"hi":34.85},
      {"g":"3tgHFD","w":0,"f":20.0,"lo":18.1,"hi":21.9},{"g":"3tgHFD","w":1,"f":22.55,"lo":21.05,"hi":24.05},{"g":"3tgHFD","w":2,"f":24.9,"lo":23.7,"hi":26.1},{"g":"3tgHFD","w":3,"f":27.3,"lo":26.25,"hi":28.35},{"g":"3tgHFD","w":4,"f":29.35,"lo":28.35,"hi":30.35},{"g":"3tgHFD","w":5,"f":31.5,"lo":30.5,"hi":32.5},{"g":"3tgHFD","w":6,"f":33.4,"lo":32.4,"hi":34.4},{"g":"3tgHFD","w":7,"f":35.4,"lo":34.4,"hi":36.4},{"g":"3tgHFD","w":8,"f":37.0,"lo":36.0,"hi":38.0},{"g":"3tgHFD","w":9,"f":38.4,"lo":37.4,"hi":39.4},{"g":"3tgHFD","w":10,"f":39.7,"lo":38.7,"hi":40.7},{"g":"3tgHFD","w":11,"f":41.1,"lo":40.05,"hi":42.15},{"g":"3tgHFD","w":12,"f":42.5,"lo":41.35,"hi":43.65},{"g":"3tgHFD","w":13,"f":43.7,"lo":42.4,"hi":45.0},{"g":"3tgHFD","w":14,"f":44.9,"lo":43.4,"hi":46.4},{"g":"3tgHFD","w":15,"f":46.0,"lo":44.1,"hi":47.9},{"g":"3tgHFD","w":16,"f":46.9,"lo":44.5,"hi":49.3},
      {"g":"B6129sHFD","w":0,"f":21.85,"lo":19.85,"hi":23.85},{"g":"B6129sHFD","w":1,"f":25.3,"lo":23.7,"hi":26.9},{"g":"B6129sHFD","w":2,"f":28.6,"lo":27.3,"hi":29.9},{"g":"B6129sHFD","w":3,"f":31.5,"lo":30.4,"hi":32.6},{"g":"B6129sHFD","w":4,"f":33.9,"lo":32.9,"hi":34.9},{"g":"B6129sHFD","w":5,"f":36.0,"lo":35.0,"hi":37.0},{"g":"B6129sHFD","w":6,"f":37.7,"lo":36.7,"hi":38.7},{"g":"B6129sHFD","w":7,"f":39.0,"lo":38.0,"hi":40.0},{"g":"B6129sHFD","w":8,"f":40.25,"lo":39.25,"hi":41.25},{"g":"B6129sHFD","w":9,"f":41.4,"lo":40.4,"hi":42.4},{"g":"B6129sHFD","w":10,"f":42.5,"lo":41.5,"hi":43.5},{"g":"B6129sHFD","w":11,"f":44.0,"lo":42.95,"hi":45.05},{"g":"B6129sHFD","w":12,"f":45.5,"lo":44.35,"hi":46.65},{"g":"B6129sHFD","w":13,"f":46.7,"lo":45.4,"hi":48.0},{"g":"B6129sHFD","w":14,"f":47.8,"lo":46.3,"hi":49.3},{"g":"B6129sHFD","w":15,"f":48.8,"lo":47.0,"hi":50.6},{"g":"B6129sHFD","w":16,"f":49.65,"lo":47.45,"hi":51.85}
    ]
  },
  "layer": [
    {
      "data": {"name": "fit"},
      "mark": {"type": "area", "opacity": 0, "interpolate": "monotone"},
      "encoding": {
        "x": {"field": "w", "type": "quantitative", "scale": {"domain": [-0.62, 16.58], "nice": false, "zero": false},
          "axis": {"title": "Week since start of dietary treatment"}},
        "y": {"field": "lo", "type": "quantitative", "scale": {"domain": [15.06, 60.8], "nice": false, "zero": false},
          "axis": {"values": [20,25,30,35,40,45,50,55,60], "title": "Body weight (g)", "labelPadding": 5, "titlePadding": 6, "labelOffset": 1.5,
            "labelExpr": "datum.value % 10 === 0 ? datum.label : ''",
            "gridWidth": {"condition": {"test": "datum.value % 10 === 0", "value": 1.2}, "value": 0.6},
            "tickOpacity": {"condition": {"test": "datum.value % 10 === 0", "value": 1}, "value": 0}}},
        "y2": {"field": "hi"},
        "fill": {"field": "g", "type": "nominal",
          "scale": {"domain": ["3tgCD","B6129sCD","3tgHFD","B6129sHFD"], "range": ["#999999","#999999","#999999","#999999"]},
          "legend": {"title": " ", "symbolType": "square", "symbolOpacity": 0.4, "symbolStrokeWidth": 0, "labelExpr": "''"}}
      }
    },
    {
      "data": {"name": "pts"},
      "mark": {"type": "circle", "size": 12, "opacity": 0.8},
      "encoding": {
        "x": {"field": "w", "type": "quantitative"},
        "y": {"field": "v", "type": "quantitative"},
        "color": {"field": "g", "type": "nominal",
          "scale": {"domain": ["B6129sCD","3tgCD","3tgHFD","B6129sHFD"], "range": ["#72E2E2","#3D7D7D","#DA2A2E","#651518"]},
          "legend": {"title": "Group", "symbolType": "stroke", "symbolStrokeWidth": 2.5, "symbolOpacity": 1}}
      }
    },
    {
      "data": {"name": "fit"},
      "mark": {"type": "area", "opacity": 0.4, "interpolate": "monotone", "fill": "#999999"},
      "encoding": {
        "x": {"field": "w", "type": "quantitative"},
        "y": {"field": "lo", "type": "quantitative"},
        "y2": {"field": "hi"},
        "detail": {"field": "g"}
      }
    },
    {
      "data": {"name": "fit"},
      "mark": {"type": "line", "strokeWidth": 2.5, "interpolate": "monotone"},
      "encoding": {
        "x": {"field": "w", "type": "quantitative"},
        "y": {"field": "f", "type": "quantitative"},
        "color": {"field": "g", "type": "nominal",
          "legend": {"title": "Group", "symbolType": "stroke", "symbolStrokeWidth": 2.5, "symbolOpacity": 1}}
      }
    }
  ]
}
